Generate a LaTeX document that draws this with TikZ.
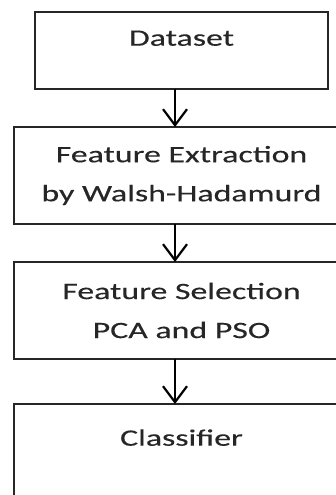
\documentclass[tikz,border=0pt]{standalone}
\usepackage{fontspec}
\setmainfont{Carlito}[FakeStretch=1.44,FakeBold=0.3]
\usetikzlibrary{arrows.meta,positioning}
\newlength{\boxwidth}
\setlength{\boxwidth}{335pt}
\newlength{\boxheight}
\setlength{\boxheight}{97pt}
\newlength{\arrowshift}
\setlength{\arrowshift}{-6.5pt}

\begin{document}
\begin{tikzpicture}[x=1pt,y=-1pt]
  \tikzstyle{stepbox}=[
       draw=black!85,
       line width=1.8pt,
       inner sep=0pt,
       outer sep=0pt,
       minimum width=\boxwidth,
       minimum height=\boxheight,
       align=center,
       text=black!85,
       font=\fontsize{23.5}{39}\selectfont]
  \tikzstyle{flow}=[
       draw=black,
       line width=2.2pt,
       -{Straight Barb[length=16pt,width=24pt]}]
  \useasboundingbox (0,0) rectangle (336,495);
  \clip (0,0) rectangle (336,495);
  % the four steps, the last two run off the page
  \node[stepbox, minimum width=293pt, minimum height=77pt,
        text height=33.7pt, text depth=43.3pt] (dataset) at (181.5,50.5) {Dataset};
  \node[stepbox, below=38pt of dataset] (extraction) {Feature Extraction\\by Walsh-Hadamurd};
  \node[stepbox, below=38pt of extraction] (selection) {Feature Selection\\PCA and PSO};
  \node[stepbox, below=45pt of selection,
        text height=41.7pt, text depth=55.3pt] (classifier) {Classifier};
  \draw[flow] ([xshift=\arrowshift]dataset.south) -- ([xshift=\arrowshift]extraction.north);
  \draw[flow] ([xshift=\arrowshift]extraction.south) -- ([xshift=\arrowshift]selection.north);
  \draw[flow] ([xshift=\arrowshift]selection.south) -- ([xshift=\arrowshift]classifier.north);
\end{tikzpicture}
\end{document}
